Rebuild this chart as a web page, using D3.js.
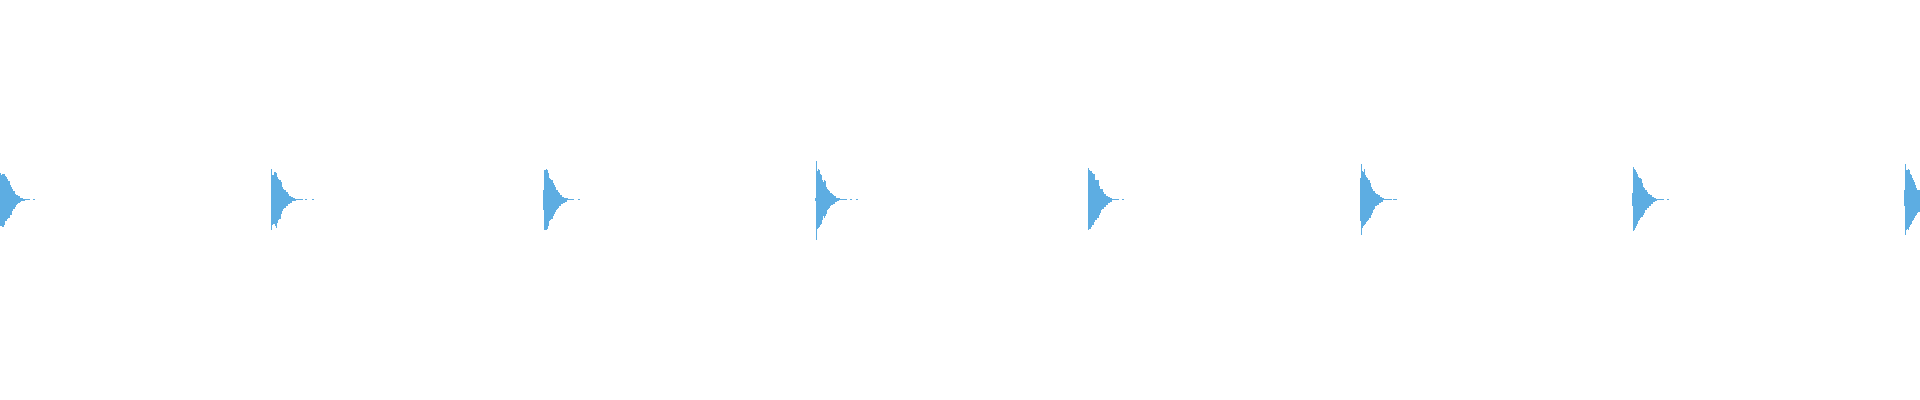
<!DOCTYPE html>
<html>
<head>
<meta charset="utf-8">
<script src="https://cdn.jsdelivr.net/npm/d3@7/dist/d3.min.js"></script>
<style>
  html, body { margin: 0; padding: 0; background: #ffffff; }
  svg { display: block; }
</style>
</head>
<body>
<svg id="chart" width="1920" height="400"></svg>
<script>
// Onset of each event, in waveform bins (one bin per column)
const onsets = [0, 271, 543, 815, 1088, 1360, 1632, 1904];

// Peak amplitude above the zero line for each bin of each event (units: 1/200 of full scale)
const peaksPos = [
  [27,25,26,26,26,24,23,21,19,19,15,13,11,9,9,6,5,5,4,4,2,2,1.5,1,1,1,1,1,1,1,0,0,0,1,1],
  [31,25,25,28,28,27,23,21,20,20,18,13,11,10,10,8,8,6,4,4,3,3,2,2,1,1,1,1,1,1,1,1,0,0,1,1,0,0,0,0,0,1,1],
  [10,30,30,31,30,27,22,21,20,20,17,15,12.5,10,10,8,6.5,4.5,4.5,3,3,2,2,1.5,1.5,1,1,1,1,1,1,0,0,0,0,1,1],
  [2,39,29,30.5,29.5,25.5,24.5,19.5,18,20,19,13,10.5,10,9,7,7,5.5,5,3.5,3.5,2,2,1.5,1.5,1,1,1,1,1,1,1,0,0,0,1,1,0,0,0,0,1,1],
  [31.5,29.5,29,29,27,25.5,25.5,19.5,19.5,19.5,19.5,13.5,11,10.5,10.5,8,6,6,4,4,3,3,2,2,1,1,1,1,1,1,1,0,0,0,1,1],
  [21.5,35.5,29,27.5,31,24.5,23,21.5,19.5,20,16.5,13,10.5,8.5,8.5,7,5.5,5.5,4.5,4.5,3,3,2,2,1,1,1,1,1,1,1,1,0,1,1,1,1],
  [7,33,30.5,29.5,28,26,23,21.5,21.5,20.5,16.5,13,11.5,9.5,9.5,7.5,6,6,4.5,4.5,3,3,2,2,1,1,1,1,1,1,1,1,0,0,0,1,1],
  [10,35.5,29.5,29.5,31,29.5,26,24.5,22,20,18,14.5,12,10,10,9.5]
];

// Peak amplitude below the zero line for each bin of each event (same units)
const peaksNeg = [
  [27,27,28,28,26,22,22,20,19,19,16,16,12,10,10,8,6,5,4,4,3,2,2,2,1.5,1,1,1,1,1,0,0,0,1,1],
  [31,26,25,25,27,29,24,21,20,20,15,12,10,9,9,7,7,5,5,4,4,2,2,2,1.5,1,1,1,1,1,1,1,0,0,1,1,0,0,0,0,0,1,1],
  [11,31,31,31,30,27,22,21,20,20,17,15,13,11,10,9,7,7,5,5,3.5,3.5,2.5,2.5,1,1,1,1,1,1,1,0,0,0,0,1,1],
  [2,41,30,28.5,27.5,25.5,24.5,21,17,18.5,17,14.5,11,9.5,8.5,7,5.5,5.5,4.5,4.5,3,3,2,2,1,1,1,1,1,1,1,1,0,0,0,1,1,0,0,0,0,1,1],
  [31,30,30,28,25.5,25.5,23,20.5,20.5,18.5,18.5,15.5,14,11,9.5,9.5,7.5,7.5,5.5,5.5,3.5,3.5,2.5,2.5,1,1,1,1,1,1,1,0,0,0,1,1],
  [22,35.5,28.5,27,26,24.5,23,21.5,21,18.5,18.5,15.5,14,11,9.5,7,7,5.5,5.5,3.5,3.5,2.5,2.5,1,1,1,1,1,1,1,1,1,0,1,1,1,1],
  [6.5,32,30.5,28.5,26.5,24.5,22,21,18.5,17.5,17.5,15.5,14,10.5,10.5,8.5,8.5,6.5,6.5,4.5,4.5,3,3,2,2,1,1,1,1,1,1,1,0,0,0,1,1],
  [6.5,35.5,30.5,29.5,31,28,25.5,24.5,22,20.5,18.5,16.5,15.5,14,13,13]
];

const totalBins = 1920;
const W = 1920, H = 400;
const color = "#5dade2";

const svg = d3.select("#chart");

const x = d3.scaleLinear().domain([0, totalBins]).range([0, W]);
const y = d3.scaleLinear().domain([-200, 200]).range([H - 1, 0]);

// Flatten into one record per bin
const bins = [];
onsets.forEach((start, e) => {
  peaksPos[e].forEach((p, i) => {
    const n = peaksNeg[e][i];
    if (p > 0 || n > 0) bins.push({ bin: start + i, max: p, min: -n });
  });
});

const binW = x(1) - x(0);

svg.append("g")
  .attr("clip-path", null)
  .selectAll("rect")
  .data(bins)
  .join("rect")
  .attr("x", d => x(d.bin))
  .attr("width", binW)
  .attr("y", d => y(d.max))
  .attr("height", d => y(d.min) - y(d.max))
  .attr("fill", color)
  .attr("shape-rendering", "crispEdges");
</script>
</body>
</html>
